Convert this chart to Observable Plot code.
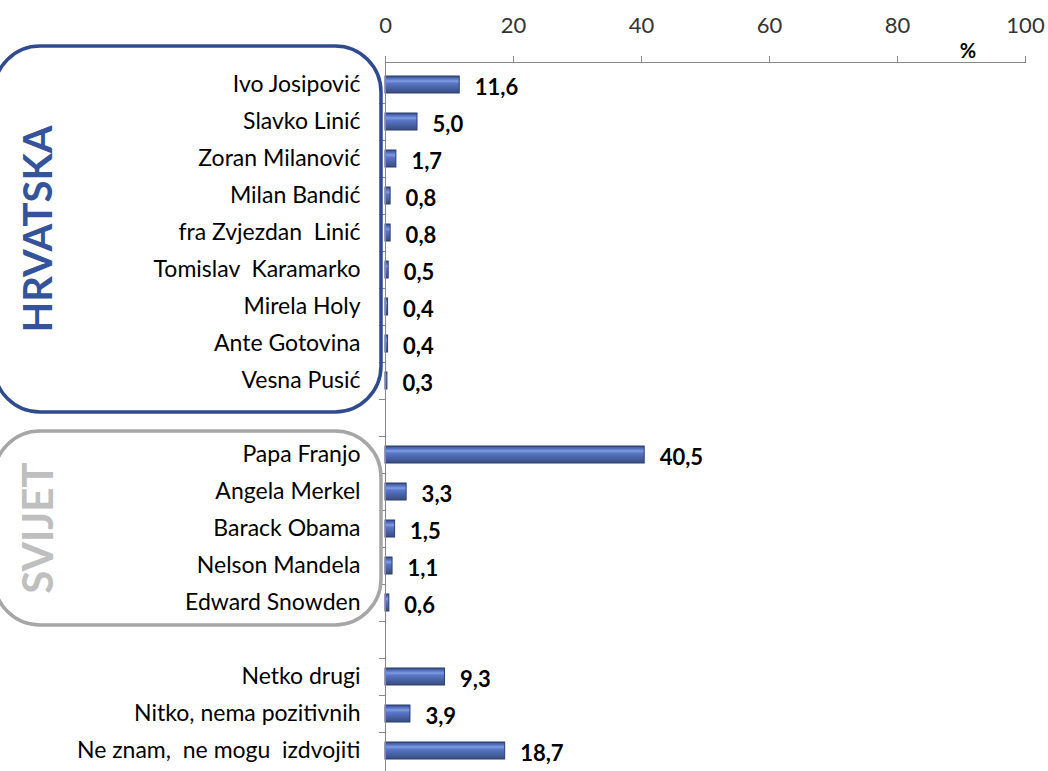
<!DOCTYPE html>
<html><head><meta charset="utf-8">
<script src="https://cdn.jsdelivr.net/npm/d3@7"></script>
<script src="https://cdn.jsdelivr.net/npm/@observablehq/plot@0.6"></script>
<style>html,body{margin:0;padding:0;background:#fff;overflow:hidden}</style>
</head><body><div id="chart"></div>
<script>
const categories = ["Ivo Josipović", "Slavko Linić", "Zoran Milanović", "Milan Bandić", "fra Zvjezdan  Linić", "Tomislav  Karamarko", "Mirela Holy", "Ante Gotovina", "Vesna Pusić", "", "Papa Franjo", "Angela Merkel", "Barack Obama", "Nelson Mandela", "Edward Snowden", " ", "Netko drugi", "Nitko, nema pozitivnih", "Ne znam,  ne mogu  izdvojiti"];
const values = [11.6, 5.0, 1.7, 0.8, 0.8, 0.5, 0.4, 0.4, 0.3, null, 40.5, 3.3, 1.5, 1.1, 0.6, null, 9.3, 3.9, 18.7];
const xTicks = [0, 20, 40, 60, 80, 100];
const unitLabel = "%";
const groupNames = ["HRVATSKA", "SVIJET"];
const groupFirst = ["Ivo Josipović", "Papa Franjo"];
const groupLast = ["Vesna Pusić", "Edward Snowden"];

const data = categories.map((name, i) => ({name, value: values[i]}));
const bars = data.filter(d => d.value != null);
const fmt = v => v.toFixed(1).replace(".", ",");

const chart = Plot.plot({
  width: 1048, height: 771,
  marginTop: 62, marginLeft: 385, marginRight: 23, marginBottom: 0,
  style: {fontFamily: "Lato, sans-serif", fontSize: "22px", color: "#000", background: "#fff", overflow: "visible"},
  x: {domain: [0, 100]},
  y: {domain: categories, range: [62, 774], paddingInner: 0.54, paddingOuter: 0.27},
  marks: [
    Plot.barX(bars, {x: "value", y: "name", fill: "url(#barGrad)", stroke: "#2D3F6B", strokeWidth: 1}),
    Plot.text(bars, {x: "value", y: "name", text: d => fmt(d.value), dx: 15, dy: 3, textAnchor: "start", fontWeight: "bold", fontSize: 22, fill: "#000"}),
    Plot.axisX({anchor: "top", ticks: xTicks, tickSize: 7, tickPadding: 23, stroke: "#888", fill: "#333", fontSize: 22, label: null}),
    Plot.axisY({tickSize: 0, tickPadding: 25, fontSize: 23, fill: "#000", label: null}),
    Plot.frame({anchor: "top", stroke: "#888"}),
    Plot.frame({anchor: "left", stroke: "#888"}),
    Plot.text([unitLabel], {x: d => 91, frameAnchor: "top", dy: -19, text: d => d, fontWeight: "bold", fontSize: 20})
  ]
});
document.getElementById("chart").appendChild(chart);

const svg = d3.select(chart);
const defs = svg.insert("defs", ":first-child");
const g = defs.append("linearGradient").attr("id", "barGrad").attr("x1", 0).attr("y1", 0).attr("x2", 0).attr("y2", 1);
[[0, "#34498A"], [0.15, "#5470BE"], [0.3, "#7F9DE3"], [0.42, "#5A78C6"], [0.7, "#4862A6"], [1, "#394C7C"]]
  .forEach(([o, c]) => g.append("stop").attr("offset", o).attr("stop-color", c));

// category boundary ticks on the y axis & group boxes
const ys = chart.scale("y");
const step = ys.step, bw = ys.bandwidth;
const bandTop = n => ys.apply(n) - (step - bw) / 2;
const over = svg.append("g");
categories.forEach((n, i) => {
  if (i === 0) return;
  const yy = Math.round(bandTop(n)) + 0.5;
  over.append("line").attr("x1", 379).attr("x2", 385).attr("y1", yy).attr("y2", yy).attr("stroke", "#888");
});
const boxStyles = [
  {stroke: "#2F4B8E", text: "#34539A", top: -20, bottom: 13, size: 40},
  {stroke: "#A6A6A6", text: "#BFBFBF", top: -5, bottom: 4, size: 42}
];
groupNames.forEach((gname, i) => {
  const st = boxStyles[i];
  const y0 = bandTop(groupFirst[i]) + st.top;
  const y1 = bandTop(groupLast[i]) + step + st.bottom;
  over.append("rect").attr("x", -6).attr("y", y0).attr("width", 387).attr("height", y1 - y0)
    .attr("rx", 46).attr("fill", "none").attr("stroke", st.stroke).attr("stroke-width", 3.5);
  over.append("text").attr("transform", `translate(37,${(y0 + y1) / 2}) rotate(-90)`)
    .attr("text-anchor", "middle").attr("dominant-baseline", "central")
    .attr("font-family", "Lato, sans-serif").attr("font-weight", "bold").attr("font-size", st.size)
    .attr("fill", st.text).text(gname);
});
</script>
</body></html>
